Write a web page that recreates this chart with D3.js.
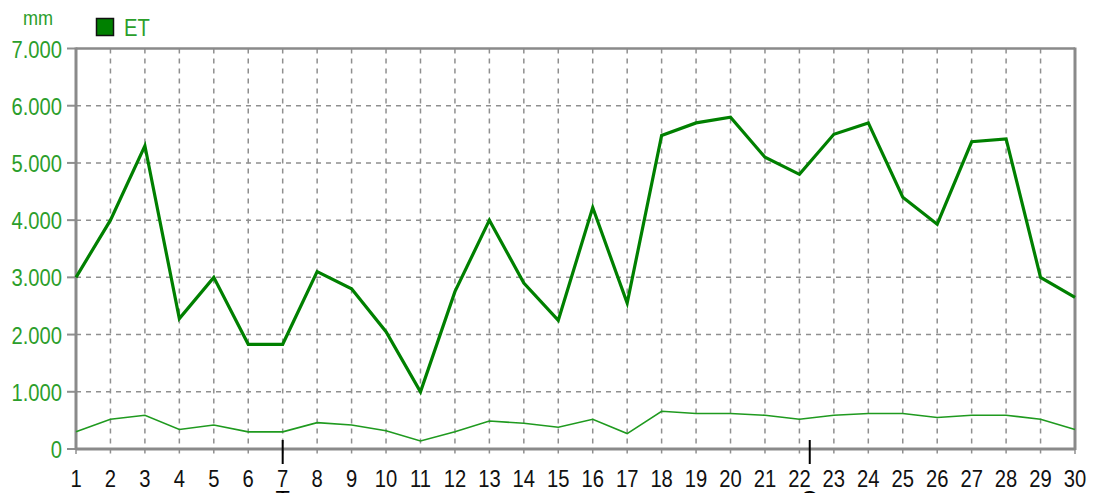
<!DOCTYPE html>
<html>
<head>
<meta charset="utf-8">
<title>ET</title>
<script src="https://d3js.org/d3.v7.min.js"></script>
<style>
body { margin: 0; background: #fff; overflow: hidden; }
svg text { font-family: "Liberation Sans", Arial, sans-serif; }
</style>
</head>
<body>
<svg width="1094" height="493"></svg>
<script>

// days 1..30
var days = d3.range(1, 31);

// ET (thick line)
var etValues = [3.00, 4.00, 5.30, 2.28, 3.00, 1.83, 1.83, 3.10, 2.80, 2.05,
                1.00, 2.75, 4.00, 2.90, 2.25, 4.22, 2.55, 5.48, 5.70, 5.80,
                5.10, 4.80, 5.50, 5.70, 4.40, 3.93, 5.37, 5.42, 3.00, 2.65];

// second (thin) series
var lowValues = [0.30, 0.52, 0.59, 0.34, 0.42, 0.30, 0.30, 0.46, 0.42, 0.32,
                 0.14, 0.30, 0.49, 0.45, 0.38, 0.52, 0.27, 0.66, 0.62, 0.62,
                 0.59, 0.52, 0.59, 0.62, 0.62, 0.55, 0.59, 0.59, 0.52, 0.34];

var yTicks = [0, 1, 2, 3, 4, 5, 6, 7];
var markers = [7, 22.3];
var markerLabels = ["T", "O"];

var svg = d3.select("svg");
var green = "#2b9e2b";
var gridCol = "#8f8f8f";

var x = d3.scaleLinear().domain([1, 30]).range([76, 1075]);
var y = d3.scaleLinear().domain([0, 7]).range([449, 48.5]);

// grid
svg.append("g").selectAll("line")
  .data(days.slice(1, -1))
  .enter().append("line")
    .attr("x1", d => x(d)).attr("x2", d => x(d))
    .attr("y1", y(7)).attr("y2", y(0) + 9)
    .attr("stroke", gridCol).attr("stroke-width", 1.5)
    .attr("stroke-dasharray", "5,5");

svg.append("g").selectAll("line")
  .data(yTicks.slice(1, -1))
  .enter().append("line")
    .attr("x1", x(1)).attr("x2", x(30))
    .attr("y1", d => y(d)).attr("y2", d => y(d))
    .attr("stroke", gridCol).attr("stroke-width", 1.5)
    .attr("stroke-dasharray", "5,5");

// x ticks below axis at 1 and 30
svg.append("g").selectAll("line")
  .data([1, 30])
  .enter().append("line")
    .attr("x1", d => x(d)).attr("x2", d => x(d))
    .attr("y1", y(0)).attr("y2", y(0) + 9)
    .attr("stroke", gridCol).attr("stroke-width", 1.5)
    .attr("stroke-dasharray", "5,5");

// y ticks
svg.append("g").selectAll("line")
  .data(yTicks)
  .enter().append("line")
    .attr("x1", x(1) - 9).attr("x2", x(1))
    .attr("y1", d => y(d)).attr("y2", d => y(d))
    .attr("stroke", gridCol).attr("stroke-width", 2);

// frame
var frame = svg.append("g").attr("stroke", "#8a8a8a").attr("fill", "none");
frame.append("line").attr("x1", x(1)).attr("x2", x(30)).attr("y1", y(7)).attr("y2", y(7)).attr("stroke-width", 2.5);
frame.append("line").attr("x1", x(1)).attr("x2", x(30)).attr("y1", y(0)).attr("y2", y(0)).attr("stroke-width", 3);
frame.append("line").attr("x1", x(1)).attr("x2", x(1)).attr("y1", y(7) - 1).attr("y2", y(0) + 1).attr("stroke-width", 3);
frame.append("line").attr("x1", x(30)).attr("x2", x(30)).attr("y1", y(7) - 1).attr("y2", y(0) + 1).attr("stroke-width", 3);

// y labels
svg.append("g").selectAll("text")
  .data(yTicks)
  .enter().append("text")
    .attr("transform", d => "translate(62," + (y(d) + 9) + ") scale(0.86,1)")
    .attr("text-anchor", "end")
    .attr("font-size", 23.5)
    .attr("fill", green)
    .text(d => d === 0 ? "0" : d3.format(".3f")(d));

// x labels
svg.append("g").selectAll("text")
  .data(days)
  .enter().append("text")
    .attr("transform", d => "translate(" + x(d) + ",487) scale(0.86,1)")
    .attr("text-anchor", "middle")
    .attr("font-size", 23.5)
    .attr("fill", "#111")
    .text(d => d);

// markers
svg.append("g").selectAll("line")
  .data(markers)
  .enter().append("line")
    .attr("x1", d => x(d)).attr("x2", d => x(d))
    .attr("y1", 440).attr("y2", 464)
    .attr("stroke", "#000").attr("stroke-width", 2);

svg.append("g").selectAll("text")
  .data(markers)
  .enter().append("text")
    .attr("x", d => x(d)).attr("y", 508)
    .attr("text-anchor", "middle")
    .attr("font-size", 23.5)
    .attr("fill", "#000")
    .text((d, i) => markerLabels[i]);

// lines
var line = d3.line().x((d, i) => x(days[i])).y(d => y(d));

svg.append("path")
  .datum(lowValues)
  .attr("d", line)
  .attr("fill", "none")
  .attr("stroke", "#1f9a1f")
  .attr("stroke-width", 1.6);

svg.append("path")
  .datum(etValues)
  .attr("d", line)
  .attr("fill", "none")
  .attr("stroke", "#008000")
  .attr("stroke-width", 3.2)
  .attr("stroke-linejoin", "miter");

// unit + legend
svg.append("text")
  .attr("transform", "translate(23,25) scale(0.95,1.1)")
  .attr("font-size", 19)
  .attr("fill", green)
  .text("mm");

svg.append("rect")
  .attr("x", 96.5).attr("y", 18.5).attr("width", 17).attr("height", 17)
  .attr("fill", "#008000").attr("stroke", "#111").attr("stroke-width", 1.5);

svg.append("text")
  .attr("transform", "translate(124,36) scale(0.86,1)")
  .attr("font-size", 23.5)
  .attr("fill", green)
  .text("ET");

</script>
</body>
</html>
